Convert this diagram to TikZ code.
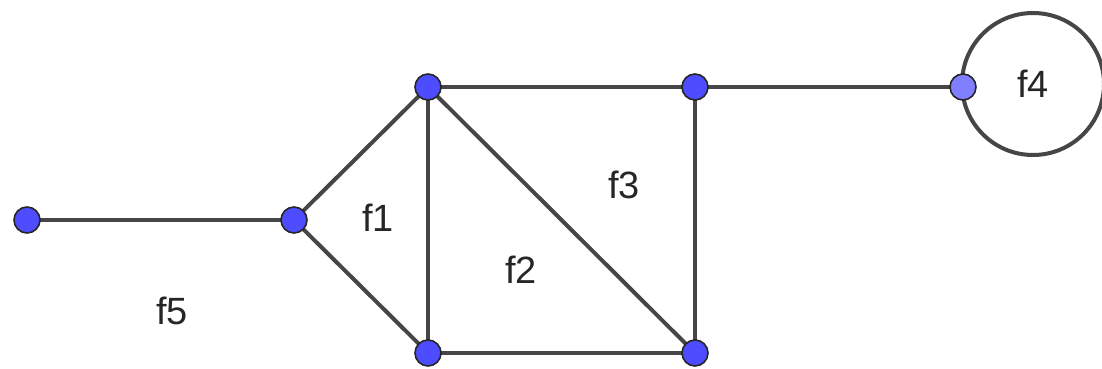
\documentclass[tikz,border=0pt]{standalone}
\usepackage{fontspec}
\setmainfont{Liberation Sans}
\usepackage{xcolor}
\usetikzlibrary{backgrounds}
\definecolor{vblue}{HTML}{4D4DFF}
\definecolor{vlight}{HTML}{7F7FFF}
\definecolor{edgegray}{HTML}{464646}
\begin{document}
\begin{tikzpicture}[
  x=1pt, y=-1pt,
  vertex/.style={circle, draw=black!85, line width=1.6pt, fill=vblue, inner sep=0pt, minimum size=26pt},
  lvertex/.style={vertex, fill=vlight},
  edge/.style={draw=edgegray, line width=4pt},
  face/.style={font=\fontsize{38}{40}\selectfont, text=black!85}
]
\useasboundingbox (0,0) rectangle (1102,369);
% vertices
\node[vertex] (a) at (27,220) {};
\node[vertex] (b) at (294,220) {};
\node[vertex] (c) at (428,87) {};
\node[vertex] (d) at (428,353) {};
\node[vertex] (e) at (695,87) {};
\node[vertex] (f) at (695,353) {};
\node[lvertex] (g) at (963,87) {};
\coordinate (lc) at (1033,84);
% edges
\begin{scope}[on background layer]
\foreach \s/\t in {a/b,b/c,b/d,c/d,c/e,c/f,d/f,e/f,e/g}
  \draw[edge] (\s.center) -- (\t.center);
\draw[edge] (lc) circle[radius=71];
\end{scope}
% face labels
\node[face] (f1) at (378,218) {f1};
\node[face] (f2) at (521,270) {f2};
\node[face] (f3) at (624,185) {f3};
\node[face] (f4) at (lc) {f4};
\node[face] (f5) at (172,311) {f5};
\end{tikzpicture}
\end{document}
